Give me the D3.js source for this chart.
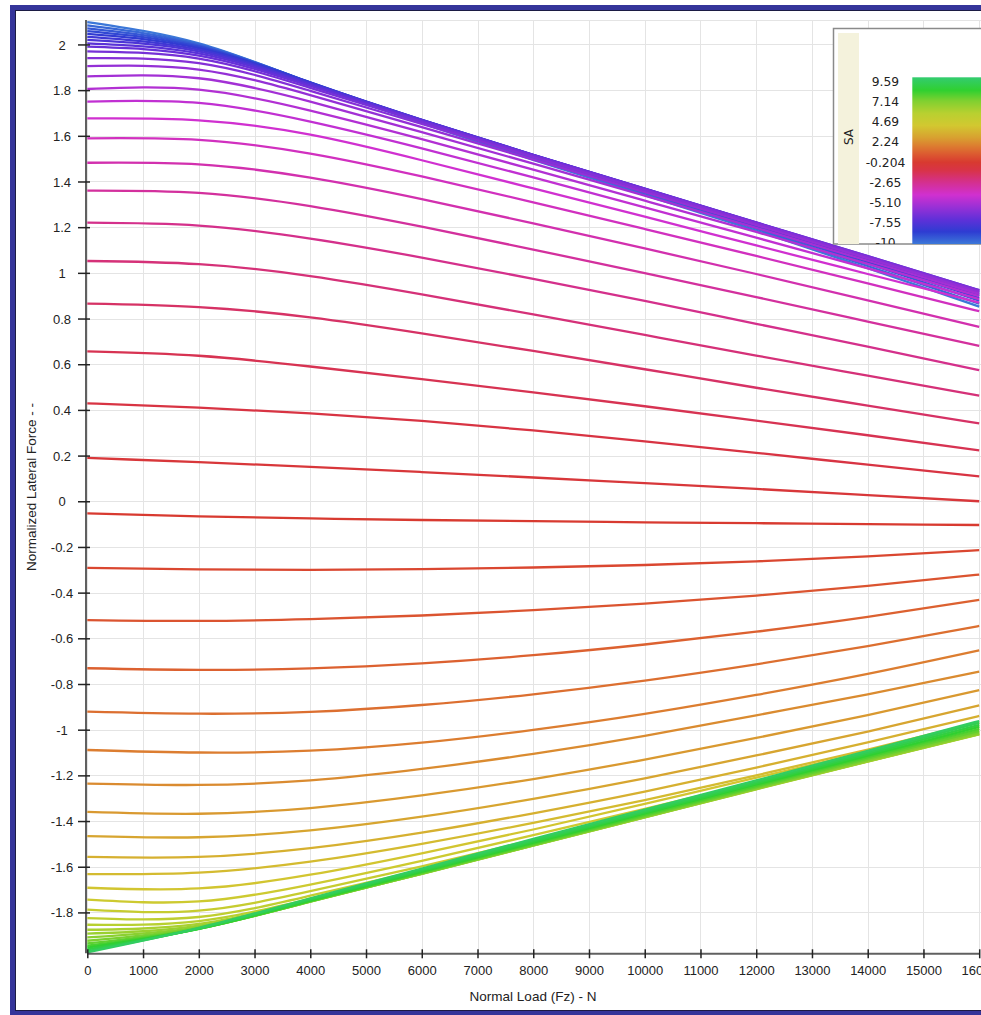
<!DOCTYPE html>
<html><head><meta charset="utf-8">
<script src="https://cdn.jsdelivr.net/npm/d3@7"></script>
<style>html,body{margin:0;padding:0;overflow:hidden;background:#fff;} svg{display:block;}</style>
</head><body><svg id="c" width="981" height="1015"></svg>
<script>
// ---------- data ----------
const fzLoads = [0, 2000, 4000, 6000, 8000, 10000, 12000, 14000, 16000];
const slipAngles = [-10, -9.6, -9.2, -8.8, -8.4, -8.0, -7.6, -7.2, -6.8, -6.4, -6.0, -5.6, -5.2, -4.8, -4.4, -4.0,
  -3.6, -3.2, -2.8, -2.4, -2.0, -1.6, -1.2, -0.8, -0.4, 0, 0.4, 0.8, 1.2, 1.6, 2.0, 2.4, 2.8, 3.2, 3.6,
  4.0, 4.4, 4.8, 5.2, 5.6, 6.0, 6.4, 6.8, 7.2, 7.6, 8.0, 8.4, 8.8, 9.2, 9.6, 10];
const normLateralForce = [
  [2.098, 2.005, 1.83, 1.655, 1.495, 1.34, 1.185, 1.02, 0.852],
  [2.083, 2.0, 1.832, 1.66, 1.502, 1.348, 1.193, 1.03, 0.865],
  [2.07, 1.995, 1.833, 1.664, 1.507, 1.354, 1.2, 1.04, 0.878],
  [2.058, 1.99, 1.834, 1.667, 1.511, 1.359, 1.206, 1.048, 0.89],
  [2.046, 1.984, 1.833, 1.669, 1.514, 1.363, 1.211, 1.055, 0.9],
  [2.033, 1.977, 1.831, 1.67, 1.516, 1.366, 1.215, 1.061, 0.908],
  [2.02, 1.97, 1.828, 1.67, 1.517, 1.368, 1.218, 1.066, 0.915],
  [2.005, 1.961, 1.824, 1.669, 1.517, 1.369, 1.22, 1.07, 0.921],
  [1.99, 1.951, 1.818, 1.666, 1.516, 1.369, 1.221, 1.073, 0.924],
  [1.97, 1.938, 1.81, 1.661, 1.513, 1.367, 1.22, 1.073, 0.924],
  [1.94, 1.918, 1.797, 1.652, 1.507, 1.362, 1.216, 1.069, 0.921],
  [1.905, 1.89, 1.778, 1.638, 1.496, 1.353, 1.209, 1.063, 0.916],
  [1.86, 1.852, 1.75, 1.616, 1.478, 1.338, 1.197, 1.053, 0.908],
  [1.805, 1.802, 1.71, 1.585, 1.452, 1.316, 1.179, 1.039, 0.898],
  [1.75, 1.744, 1.662, 1.545, 1.418, 1.287, 1.154, 1.02, 0.885],
  [1.676, 1.668, 1.605, 1.493, 1.37, 1.246, 1.12, 0.995, 0.87],
  [1.589, 1.582, 1.522, 1.422, 1.309, 1.192, 1.074, 0.954, 0.832],
  [1.482, 1.475, 1.417, 1.323, 1.217, 1.107, 0.995, 0.88, 0.763],
  [1.36, 1.35, 1.292, 1.202, 1.102, 0.999, 0.894, 0.787, 0.68],
  [1.22, 1.207, 1.15, 1.067, 0.974, 0.877, 0.777, 0.677, 0.574],
  [1.052, 1.038, 0.986, 0.906, 0.818, 0.728, 0.638, 0.55, 0.462],
  [0.865, 0.85, 0.805, 0.735, 0.658, 0.578, 0.497, 0.419, 0.341],
  [0.656, 0.637, 0.59, 0.535, 0.477, 0.416, 0.353, 0.289, 0.223],
  [0.429, 0.41, 0.385, 0.352, 0.31, 0.262, 0.212, 0.16, 0.109],
  [0.19, 0.171, 0.151, 0.128, 0.104, 0.079, 0.054, 0.027, 0.0],
  [-0.053, -0.066, -0.075, -0.082, -0.087, -0.092, -0.096, -0.1, -0.104],
  [-0.292, -0.298, -0.3, -0.297, -0.29, -0.279, -0.263, -0.241, -0.214],
  [-0.52, -0.524, -0.516, -0.5, -0.477, -0.448, -0.413, -0.37, -0.321],
  [-0.731, -0.738, -0.732, -0.71, -0.674, -0.627, -0.571, -0.506, -0.432],
  [-0.921, -0.93, -0.922, -0.892, -0.845, -0.785, -0.714, -0.634, -0.546],
  [-1.089, -1.1, -1.092, -1.057, -1.001, -0.931, -0.848, -0.756, -0.653],
  [-1.236, -1.242, -1.222, -1.172, -1.106, -1.027, -0.937, -0.845, -0.746],
  [-1.36, -1.368, -1.343, -1.288, -1.216, -1.131, -1.036, -0.936, -0.827],
  [-1.466, -1.471, -1.441, -1.381, -1.303, -1.213, -1.113, -1.008, -0.894],
  [-1.557, -1.557, -1.519, -1.451, -1.366, -1.271, -1.166, -1.056, -0.94],
  [-1.632, -1.626, -1.578, -1.5, -1.408, -1.308, -1.2, -1.087, -0.968],
  [-1.692, -1.695, -1.635, -1.541, -1.437, -1.325, -1.21, -1.097, -0.985],
  [-1.744, -1.752, -1.678, -1.574, -1.462, -1.347, -1.23, -1.114, -0.998],
  [-1.788, -1.792, -1.707, -1.598, -1.482, -1.364, -1.245, -1.127, -1.008],
  [-1.825, -1.82, -1.727, -1.614, -1.495, -1.375, -1.254, -1.135, -1.015],
  [-1.854, -1.838, -1.74, -1.624, -1.503, -1.381, -1.259, -1.139, -1.019],
  [-1.876, -1.85, -1.747, -1.629, -1.507, -1.384, -1.261, -1.14, -1.021],
  [-1.893, -1.858, -1.751, -1.631, -1.508, -1.384, -1.26, -1.139, -1.02],
  [-1.909, -1.864, -1.753, -1.631, -1.507, -1.383, -1.258, -1.136, -1.017],
  [-1.924, -1.868, -1.753, -1.63, -1.505, -1.38, -1.255, -1.132, -1.012],
  [-1.936, -1.871, -1.752, -1.628, -1.503, -1.377, -1.251, -1.127, -1.005],
  [-1.946, -1.872, -1.75, -1.625, -1.499, -1.372, -1.246, -1.12, -0.997],
  [-1.954, -1.872, -1.748, -1.622, -1.495, -1.367, -1.24, -1.114, -0.988],
  [-1.962, -1.871, -1.745, -1.618, -1.49, -1.362, -1.235, -1.107, -0.979],
  [-1.969, -1.87, -1.742, -1.614, -1.485, -1.357, -1.229, -1.1, -0.97],
  [-1.975, -1.868, -1.738, -1.608, -1.478, -1.35, -1.222, -1.093, -0.962]
];
const xTickValues = [0, 1000, 2000, 3000, 4000, 5000, 6000, 7000, 8000, 9000, 10000, 11000, 12000, 13000, 14000, 15000, 16000];
const yTickValues = [-1.8, -1.6, -1.4, -1.2, -1, -0.8, -0.6, -0.4, -0.2, 0, 0.2, 0.4, 0.6, 0.8, 1, 1.2, 1.4, 1.6, 1.8, 2];
const legendLabels = ["9.59", "7.14", "4.69", "2.24", "-0.204", "-2.65", "-5.10", "-7.55", "-10"];
const colorStopSA = [-10, -8.5, -7, -5.5, -4, -2.5, -1, 0, 1, 2, 3, 4.5, 6, 7.5, 8.8, 10.4];
const colorStopHex = ["#3c78d8", "#2e3cd2", "#6030d8", "#9830d6", "#d030d0", "#d43090", "#d83348", "#d83a30",
  "#dc5a30", "#dc7d30", "#d8a030", "#d2c830", "#b8d030", "#80d030", "#30d030", "#33cc70"];

// ---------- layout ----------
const svg = d3.select("#c");
const x = d3.scaleLinear().domain([0, 16000]).range([87.3, 979.2]);
const y = d3.scaleLinear().domain([-1.979, 2.107]).range([953.3, 20]);
const color = d3.scaleLinear().domain(colorStopSA).range(colorStopHex).interpolate(d3.interpolateRgb);
const font = "'Liberation Sans', Arial, sans-serif";

// outer frame
svg.append("rect").attr("x", 12.5).attr("y", 7.5).attr("width", 1200).attr("height", 1005.5)
  .attr("fill", "#fff").attr("stroke", "#35359a").attr("stroke-width", 5);
svg.append("rect").attr("x", 15.5).attr("y", 10.5).attr("width", 1200).attr("height", 1000)
  .attr("fill", "none").attr("stroke", "#1c1c44").attr("stroke-width", 1);

// grid
const grid = svg.append("g");
grid.selectAll("line.v").data(xTickValues).join("line")
  .attr("x1", d => Math.round(x(d)) + 0.5).attr("x2", d => Math.round(x(d)) + 0.5)
  .attr("y1", 20).attr("y2", 953).attr("stroke", "#e4e4e4").attr("stroke-width", 1);
grid.selectAll("line.h").data(yTickValues.concat([2.107])).join("line")
  .attr("x1", 87).attr("x2", 1100)
  .attr("y1", d => Math.round(y(d)) + 0.5).attr("y2", d => Math.round(y(d)) + 0.5)
  .attr("stroke", "#e4e4e4").attr("stroke-width", 1);

// curves
svg.append("clipPath").attr("id", "plotClip").append("rect")
  .attr("x", 87).attr("y", 18).attr("width", 1000).attr("height", 936);
const line = d3.line().x((d, i) => x(fzLoads[i])).y(d => y(d)).curve(d3.curveNatural);
svg.append("g").attr("clip-path", "url(#plotClip)")
  .selectAll("path").data(normLateralForce).join("path")
  .attr("d", d => line(d))
  .attr("fill", "none")
  .attr("stroke", (d, i) => color(slipAngles[i]))
  .attr("stroke-width", 2.3)
  .attr("stroke-linejoin", "round");

// axes
const gx = svg.append("g").attr("transform", "translate(0,953.3)")
  .call(d3.axisBottom(x).tickValues(xTickValues).tickFormat(d => String(d)).tickSize(5).tickSizeOuter(0));
gx.select(".domain").attr("stroke", "#606060").attr("stroke-width", 2);
gx.selectAll(".tick line").attr("y1", -4).attr("y2", 5).attr("stroke", "#222").attr("stroke-width", 1.5);
gx.selectAll(".tick text").attr("y", 12).attr("dy", "0.71em").attr("font-family", font).attr("font-size", 13).attr("fill", "#222");

const gy = svg.append("g").attr("transform", "translate(86,0)")
  .call(d3.axisLeft(y).tickValues(yTickValues).tickFormat(d => String(d)).tickSize(8).tickSizeOuter(0));
gy.select(".domain").attr("stroke", "#606060").attr("stroke-width", 2)
  .attr("d", `M0,20V953.3`);
gy.selectAll(".tick line").attr("x1", 4).attr("x2", -8).attr("stroke", "#222").attr("stroke-width", 1.5);
gy.selectAll(".tick text").attr("x", -24).attr("text-anchor", "middle").attr("dy", "0.35em")
  .attr("font-family", font).attr("font-size", 13).attr("fill", "#222");
gy.attr("font-family", null);
gx.attr("font-family", null);

// axis titles
svg.append("text").attr("x", 533).attr("y", 1001).attr("text-anchor", "middle")
  .attr("font-family", font).attr("font-size", 13.5).attr("fill", "#222").text("Normal Load (Fz) - N");
svg.append("text").attr("transform", "translate(36,487) rotate(-90)").attr("text-anchor", "middle")
  .attr("font-family", font).attr("font-size", 13.5).attr("fill", "#222").text("Normalized Lateral Force - -");

// legend
const lgTop = 28.5, lgLeft = 833.5, lgBottom = 244;
svg.append("clipPath").attr("id", "lgClip").append("rect")
  .attr("x", lgLeft).attr("y", lgTop).attr("width", 300).attr("height", lgBottom - lgTop);
const lg = svg.append("g");
lg.append("rect").attr("x", lgLeft).attr("y", lgTop).attr("width", 300).attr("height", lgBottom - lgTop)
  .attr("fill", "#fff").attr("stroke", "#8a8a8a").attr("stroke-width", 1.5);
const lgIn = lg.append("g").attr("clip-path", "url(#lgClip)");
lgIn.append("rect").attr("x", 838).attr("y", 33).attr("width", 21).attr("height", 220).attr("fill", "#f4f2dc");
lgIn.append("text").attr("transform", "translate(852.5,137) rotate(-90)").attr("text-anchor", "middle")
  .attr("font-family", "'DejaVu Sans', sans-serif").attr("font-size", 12).attr("fill", "#222").text("SA");
lgIn.selectAll("text.lab").data(legendLabels).join("text").attr("class", "lab")
  .attr("x", 885.5).attr("y", (d, i) => 81.7 + i * 20.1).attr("dy", "0.36em").attr("text-anchor", "middle")
  .attr("font-family", "'DejaVu Sans', sans-serif").attr("font-size", 12.3).attr("fill", "#222").text(d => d);
const defs = svg.append("defs");
const grad = defs.append("linearGradient").attr("id", "cbar").attr("x1", 0).attr("x2", 0).attr("y1", 0).attr("y2", 1);
const cbMax = 10.4, cbMin = -10;
grad.selectAll("stop").data(colorStopSA.slice().reverse()).join("stop")
  .attr("offset", d => (cbMax - d) / (cbMax - cbMin))
  .attr("stop-color", d => color(d));
lgIn.append("rect").attr("x", 912.3).attr("y", 77.3).attr("width", 200).attr("height", lgBottom - 77.3)
  .attr("fill", "url(#cbar)");
</script></body></html>
